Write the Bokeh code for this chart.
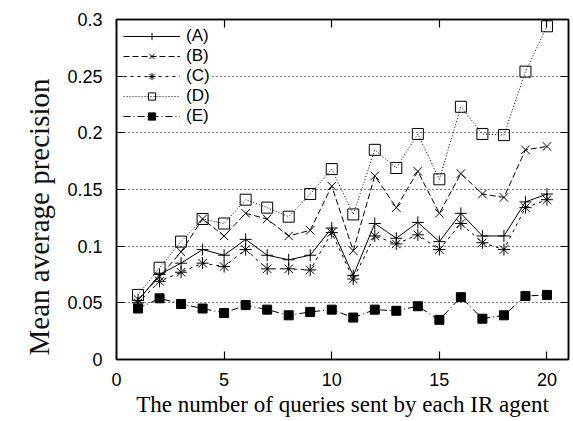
from bokeh.plotting import figure
from bokeh.models import Range1d, LinearAxis, FixedTicker, Legend, LegendItem, CustomJSTickFormatter, Title
from bokeh.embed import file_html
from bokeh.resources import INLINE

# ---- data ----
queries = list(range(1, 21))
series_a = [0.052, 0.075, 0.085, 0.097, 0.092, 0.106, 0.092, 0.088, 0.092, 0.116,
            0.074, 0.120, 0.107, 0.121, 0.104, 0.129, 0.109, 0.109, 0.139, 0.146]
series_b = [0.053, 0.073, 0.095, 0.124, 0.109, 0.129, 0.124, 0.109, 0.114, 0.153,
            0.096, 0.162, 0.134, 0.166, 0.129, 0.164, 0.146, 0.143, 0.185, 0.188]
series_c = [0.050, 0.069, 0.077, 0.085, 0.082, 0.097, 0.080, 0.080, 0.079, 0.112,
            0.071, 0.109, 0.102, 0.110, 0.097, 0.120, 0.103, 0.097, 0.134, 0.141]
series_d = [0.057, 0.081, 0.104, 0.124, 0.120, 0.141, 0.134, 0.126, 0.146, 0.168,
            0.128, 0.185, 0.169, 0.199, 0.159, 0.223, 0.199, 0.198, 0.254, 0.294]
series_e = [0.045, 0.054, 0.049, 0.045, 0.041, 0.048, 0.044, 0.039, 0.042, 0.044,
            0.037, 0.044, 0.043, 0.047, 0.035, 0.055, 0.036, 0.039, 0.056, 0.057]
series_names = ["(A)", "(B)", "(C)", "(D)", "(E)"]
x_ticks = [0, 5, 10, 15, 20]
y_ticks = [0, 0.05, 0.1, 0.15, 0.2, 0.25, 0.3]
y_tick_labels = ["0", "0.05", "0.1", "0.15", "0.2", "0.25", "0.3"]
x_title = "The number of queries sent by each IR agent"
y_title = "Mean average precision"

TICK_FONT = "Liberation Sans"
TITLE_FONT = "Liberation Serif"

p = figure(width=572, height=420, output_backend="svg", toolbar_location=None,
           x_range=Range1d(0, 21), y_range=Range1d(0, 0.3),
           min_border_left=116, min_border_right=4, min_border_top=19,
           min_border_bottom=61, x_axis_location=None, y_axis_location=None)
p.background_fill_color = "white"
p.border_fill_color = "white"
p.outline_line_color = "black"
p.outline_line_width = 1.5
p.xgrid.visible = False

blank = CustomJSTickFormatter(code="return '';")


def style_axis(ax, show_labels):
    ax.major_tick_in = 8
    ax.major_tick_out = 0
    ax.minor_tick_in = 0
    ax.minor_tick_out = 0
    ax.axis_line_color = "black"
    ax.axis_line_width = 1.5
    ax.major_tick_line_color = "black"
    ax.major_tick_line_width = 1.2
    if show_labels:
        ax.major_label_text_font = TICK_FONT
        ax.major_label_text_font_size = "18px"
        ax.major_label_text_color = "black"
    else:
        ax.formatter = blank
        ax.major_label_standoff = 0


xb = LinearAxis(ticker=FixedTicker(ticks=x_ticks))
style_axis(xb, True)
xb.major_label_standoff = 13
xb.axis_label = x_title
xb.axis_label_text_font = TITLE_FONT
xb.axis_label_text_font_size = "23px"
xb.axis_label_text_font_style = "normal"
xb.axis_label_text_color = "black"
xb.axis_label_standoff = 3
p.add_layout(xb, "below")

xt = LinearAxis(ticker=FixedTicker(ticks=x_ticks))
style_axis(xt, False)
p.add_layout(xt, "above")

yl = LinearAxis(ticker=FixedTicker(ticks=y_ticks))
style_axis(yl, True)
yl.major_label_standoff = 14
yl.major_label_overrides = {t: s for t, s in zip(y_ticks, y_tick_labels)}
p.add_layout(yl, "left")

ytitle = Title(text=y_title, align="left", offset=4, standoff=19,
               text_font=TITLE_FONT, text_font_size="29px",
               text_font_style="normal", text_color="#111111")
p.add_layout(ytitle, "left")

yr = LinearAxis(ticker=FixedTicker(ticks=y_ticks))
style_axis(yr, False)
p.add_layout(yr, "right")

p.ygrid.ticker = FixedTicker(ticks=y_ticks)
p.ygrid.grid_line_color = "black"
p.ygrid.grid_line_width = 1
p.ygrid.grid_line_dash = "1 3"

styles = [
    ("solid", "cross", None, 12),
    ("6 3", "x", None, 12),
    ("3 4", "asterisk", None, 12),
    ("1 2", "square", None, 11),
    ("7 3 1 3", "square", "black", 9),
]
all_series = [series_a, series_b, series_c, series_d, series_e]

items = []
for name, ys, (dash, marker, fc, sz) in zip(series_names, all_series, styles):
    lr = p.line(queries, ys, line_color="black", line_width=1, line_dash=dash)
    sr = p.scatter(queries, ys, marker=marker, size=sz,
                   line_color="black", line_width=1, fill_color=fc)
    items.append(LegendItem(label=name, renderers=[lr, sr]))

legend = Legend(items=items, location="top_left")
legend.glyph_width = 57
legend.glyph_height = 18
legend.label_height = 18
legend.spacing = 0
legend.padding = 2
legend.margin = 7
legend.label_standoff = 6
legend.label_text_font = TICK_FONT
legend.label_text_font_size = "17px"
legend.label_text_color = "black"
legend.background_fill_color = "white"
legend.background_fill_alpha = 1
legend.border_line_color = None
p.add_layout(legend)

open("out.html", "w").write(file_html(p, INLINE))
